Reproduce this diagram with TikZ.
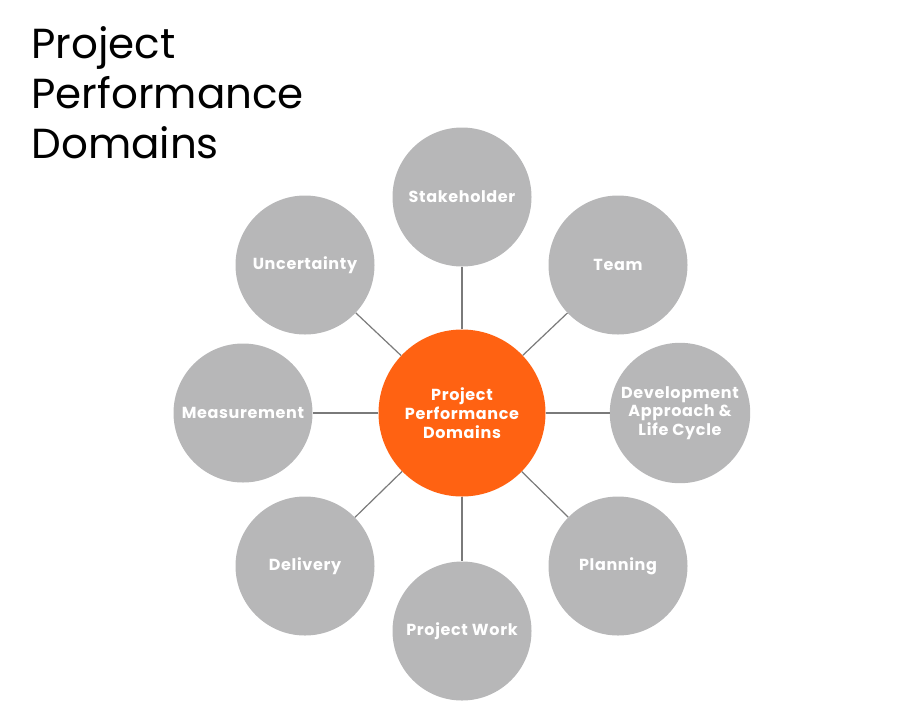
\documentclass[tikz,border=0pt]{standalone}
\usepackage{fontspec}
\setmainfont{Poppins}
\newfontfamily\labelfont[LetterSpace=4]{Poppins}
\usetikzlibrary{positioning}
\definecolor{CoreOrange}{HTML}{FF6212}
\definecolor{DomainGray}{HTML}{B7B7B8}
\definecolor{LinkGray}{HTML}{7A7A7A}
\tikzset{
  domainbox/.style={circle, fill=DomainGray, minimum size=139pt, inner sep=0pt, text=white, font=\labelfont\fontsize{16}{18.5}\selectfont\bfseries},
  corebox/.style={circle, fill=CoreOrange, minimum size=167pt, inner sep=0pt, text=white, font=\labelfont\fontsize{16}{19}\selectfont\bfseries},
  linkline/.style={draw=LinkGray, line width=1.2pt}
}
\begin{document}
\begin{tikzpicture}[x=1pt, y=-1pt, every node/.style={align=center}]
\useasboundingbox (0,0) rectangle (901,721);

\node[anchor=north west, align=left, font=\fontsize{42}{50}\selectfont] (title) at (28,23) {Project\\Performance\\Domains};

\node[corebox] (core) at (462,413) {\raisebox{-1.5pt}{\parbox{130pt}{\centering Project\\Performance\\Domains}}};

\node[domainbox] (stake) at (462,197) {\raisebox{-1.5pt}{Stakeholder}};
\node[domainbox] (team) at (618,265) {\raisebox{-1.5pt}{Team}};
\node[domainbox] (devel) at (680,413) {\raisebox{-1.5pt}{\parbox{130pt}{\centering Development\\Approach \&\\Life Cycle}}};
\node[domainbox] (plan) at (618,566) {\raisebox{-1.5pt}{Planning}};
\node[domainbox] (work) at (462,631) {\raisebox{-1.5pt}{Project Work}};
\node[domainbox] (deliv) at (305,566) {\raisebox{-1.5pt}{Delivery}};
\node[domainbox] (measure) at (243,413) {\raisebox{-1.5pt}{Measurement}};
\node[domainbox] (uncert) at (305,265) {\raisebox{-1.5pt}{Uncertainty}};

% Links
\draw[linkline] (core) -- (stake);
\draw[linkline] (core) -- (team);
\draw[linkline] (core) -- (devel);
\draw[linkline] (core) -- (plan);
\draw[linkline] (core) -- (work);
\draw[linkline] (core) -- (deliv);
\draw[linkline] (core) -- (measure);
\draw[linkline] (core) -- (uncert);
\end{tikzpicture}
\end{document}
